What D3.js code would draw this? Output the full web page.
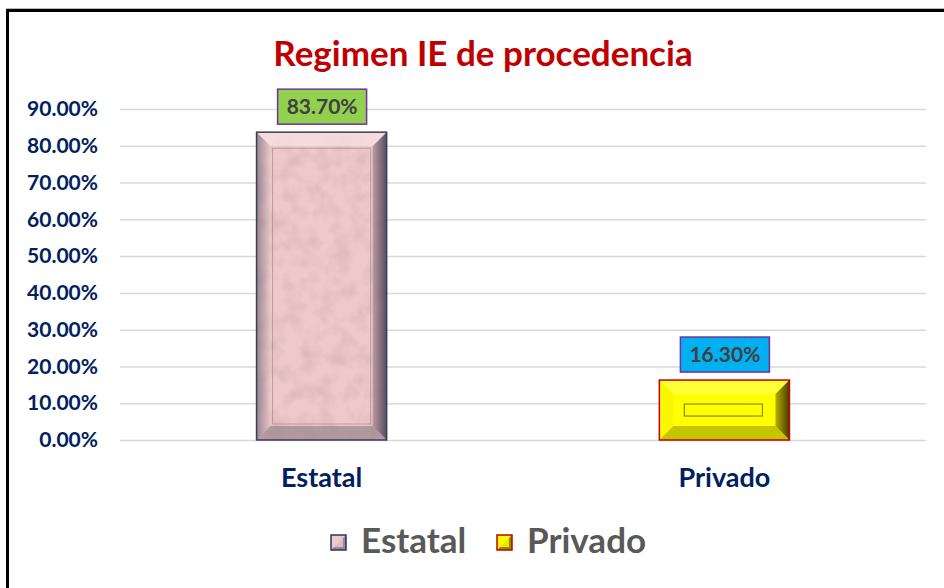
<!DOCTYPE html>
<html><head><meta charset="utf-8">
<script src="https://cdn.jsdelivr.net/npm/d3@7"></script>
<style>body{margin:0;background:#fff}svg{display:block}text{font-family:Lato,"Open Sans",sans-serif;font-weight:bold}</style>
</head><body><svg id="c" width="944" height="588"></svg>
<script>
const categories = ["Estatal", "Privado"];
const values = [83.7, 16.3];
const valueLabels = ["83.70%", "16.30%"];
const yTicks = [0, 10, 20, 30, 40, 50, 60, 70, 80, 90];
const title = "Regimen IE de procedencia";

const svg = d3.select("#c");
const W = 944, H = 588;
const m = {left: 120, right: 18, top: 109, bottom: 148};
const x = d3.scaleBand().domain(categories).range([m.left, W - m.right]).paddingInner(0.677).paddingOuter(0.339);
const y = d3.scaleLinear().domain([0, 90]).range([H - m.bottom, m.top]);

// frame
svg.append("rect").attr("x", 7.5).attr("y", 10.5).attr("width", 960).attr("height", 600)
  .attr("fill", "none").attr("stroke", "#000").attr("stroke-width", 3);
svg.append("line").attr("x1", 6).attr("x2", 944).attr("y1", 8.5).attr("y2", 8.5).attr("stroke", "#bbb");

// title
svg.append("text").attr("x", 483).attr("y", 66).attr("text-anchor", "middle")
  .attr("fill", "#c00000").attr("font-size", 35).text(title);

// grid
const yAxis = d3.axisLeft(y).tickValues(yTicks).tickSize(-(W - m.left - m.right)).tickPadding(22)
  .tickFormat(d => d3.format(".2f")(d) + "%");
const ga = svg.append("g").attr("transform", `translate(${m.left},0)`).call(yAxis);
ga.select(".domain").remove();
ga.selectAll(".tick line").attr("stroke", "#d9d9d9").attr("stroke-width", 1.5);
ga.selectAll(".tick text").attr("fill", "#002060").attr("font-size", 21).attr("font-family", "Lato,'Open Sans',sans-serif").attr("font-weight", "bold");

// defs
const defs = svg.append("defs");
const f = defs.append("filter").attr("id", "tex").attr("x", 0).attr("y", 0).attr("width", 1).attr("height", 1);
f.append("feTurbulence").attr("type", "fractalNoise").attr("baseFrequency", 0.06).attr("numOctaves", 3).attr("seed", 4).attr("result", "n");
f.append("feColorMatrix").attr("in", "n").attr("type", "matrix")
  .attr("values", "0 0 0 0 0.55  0 0 0 0 0.35  0 0 0 0 0.38  0 0 0 -0.9 0.55").attr("result", "m");
f.append("feComposite").attr("in", "m").attr("in2", "SourceGraphic").attr("operator", "in").attr("result", "mm");
f.append("feMerge").call(s => { s.append("feMergeNode").attr("in", "SourceGraphic"); s.append("feMergeNode").attr("in", "mm"); });

const gr = defs.append("linearGradient").attr("id", "rEdge").attr("x1", 0).attr("x2", 1).attr("y1", 0).attr("y2", 0);
gr.append("stop").attr("offset", 0).attr("stop-color", "#b09098");
gr.append("stop").attr("offset", 1).attr("stop-color", "#303048");
const gl = defs.append("linearGradient").attr("id", "lEdge").attr("x1", 0).attr("x2", 1).attr("y1", 0).attr("y2", 0);
gl.append("stop").attr("offset", 0).attr("stop-color", "#505068");
gl.append("stop").attr("offset", 1).attr("stop-color", "#e8c8c8");
const gy = defs.append("linearGradient").attr("id", "yEdge").attr("x1", 0).attr("x2", 1).attr("y1", 0).attr("y2", 0);
gy.append("stop").attr("offset", 0).attr("stop-color", "#a09a00");
gy.append("stop").attr("offset", 1).attr("stop-color", "#1a0a00");

const styles = [
  {base: "#efc9c9", top: "#f8e2e2", left: "url(#lEdge)", right: "url(#rEdge)", bottom: "#8a7a80", stroke: "#3d3d55", inner: "#9a8088", tex: true},
  {base: "#ffff00", top: "#ffff50", left: "#f0f000", right: "url(#yEdge)", bottom: "#a0a000", stroke: "#c00000", inner: "#8a8a00", tex: false}
];

const bars = svg.append("g");
categories.forEach((c, i) => {
  const x0 = x(c), w = x.bandwidth(), y0 = y(values[i]), y1 = y(0), h = y1 - y0;
  const s = styles[i];
  const bev = Math.min(14, h / 4);
  const g = bars.append("g");
  g.append("rect").attr("x", x0).attr("y", y0).attr("width", w).attr("height", h).attr("fill", s.base)
    .attr("filter", s.tex ? "url(#tex)" : null);
  const poly = pts => g.append("polygon").attr("points", pts.map(p => p.join(",")).join(" "));
  poly([[x0, y0], [x0 + w, y0], [x0 + w - bev, y0 + bev], [x0 + bev, y0 + bev]]).attr("fill", s.top).attr("opacity", 0.7);
  poly([[x0, y0], [x0 + bev, y0 + bev], [x0 + bev, y1 - bev], [x0, y1]]).attr("fill", s.left).attr("opacity", 0.55);
  poly([[x0 + w, y0], [x0 + w, y1], [x0 + w - bev, y1 - bev], [x0 + w - bev, y0 + bev]]).attr("fill", s.right).attr("opacity", 0.8);
  poly([[x0, y1], [x0 + bev, y1 - bev], [x0 + w - bev, y1 - bev], [x0 + w, y1]]).attr("fill", s.bottom).attr("opacity", 0.6);
  if (i === 0) {
    g.append("rect").attr("x", x0 + bev + 2).attr("y", y0 + bev + 2).attr("width", w - 2 * bev - 4).attr("height", h - 2 * bev - 4)
      .attr("fill", "none").attr("stroke", s.inner).attr("stroke-width", 1).attr("opacity", 0.6);
  } else {
    g.append("rect").attr("x", x0 + 25).attr("y", y0 + 24).attr("width", w - 52).attr("height", 12)
      .attr("fill", "none").attr("stroke", s.inner).attr("stroke-width", 1.2);
  }
  g.append("rect").attr("x", x0).attr("y", y0).attr("width", w).attr("height", h).attr("fill", "none")
    .attr("stroke", s.stroke).attr("stroke-width", 1.5);
});

// value labels
const lblFill = ["#92d050", "#00b0f0"];
categories.forEach((c, i) => {
  const cx = x(c) + x.bandwidth() / 2, yb = y(values[i]) - 8;
  svg.append("rect").attr("x", cx - 44).attr("y", yb - 35).attr("width", 89).attr("height", 35)
    .attr("fill", lblFill[i]).attr("stroke", "#7030a0").attr("stroke-width", 1.5);
  svg.append("text").attr("x", cx + 0.5).attr("y", yb - 10).attr("text-anchor", "middle")
    .attr("fill", "#404040").attr("font-size", 21).text(valueLabels[i]);
});

// x axis labels
const xAxis = d3.axisBottom(x).tickSize(0).tickPadding(28);
const gx = svg.append("g").attr("transform", `translate(0,${y(0)})`).call(xAxis);
gx.select(".domain").remove();
gx.selectAll(".tick text").attr("fill", "#002060").attr("font-size", 27).attr("font-family", "Lato,'Open Sans',sans-serif").attr("font-weight", "bold");

// legend
const legX = [331, 497];
categories.forEach((c, i) => {
  const s = styles[i];
  const lx = legX[i], ly = 535, sz = 15;
  const g = svg.append("g");
  g.append("rect").attr("x", lx).attr("y", ly).attr("width", sz).attr("height", sz).attr("fill", s.base);
  g.append("polygon").attr("points", `${lx+sz},${ly} ${lx+sz},${ly+sz} ${lx},${ly+sz}`).attr("fill", i === 0 ? "#5a5060" : "#3a2a00").attr("opacity", 0.55);
  g.append("rect").attr("x", lx + 3).attr("y", ly + 3).attr("width", sz - 6).attr("height", sz - 6).attr("fill", s.base).attr("opacity", 0.8);
  g.append("rect").attr("x", lx).attr("y", ly).attr("width", sz).attr("height", sz).attr("fill", "none")
    .attr("stroke", i === 0 ? "#1f3864" : "#c00000").attr("stroke-width", 1.5);
  g.append("text").attr("x", lx + sz + 15).attr("y", ly + sz + 3).attr("fill", "#595959").attr("font-size", 35).text(c);
});
</script></body></html>
